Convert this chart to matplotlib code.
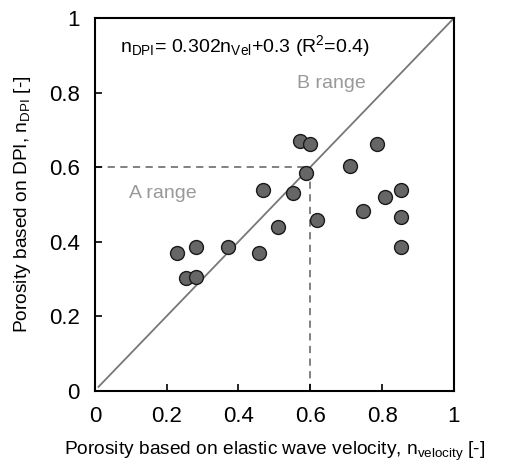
import matplotlib
matplotlib.use("Agg")
import matplotlib.pyplot as plt

plt.rcParams["font.family"] = ["Liberation Sans", "DejaVu Sans"]
plt.rcParams["mathtext.fontset"] = "custom"
plt.rcParams["mathtext.rm"] = "Liberation Sans"
plt.rcParams["mathtext.it"] = "Liberation Sans:italic"

# porosity
n_velocity = [0.228, 0.253, 0.281, 0.283, 0.372, 0.458, 0.469, 0.509, 0.552, 0.571,
              0.599, 0.587, 0.620, 0.711, 0.746, 0.787, 0.808, 0.854, 0.854, 0.854]
n_dpi = [0.369, 0.303, 0.304, 0.385, 0.385, 0.369, 0.538, 0.440, 0.530, 0.670,
         0.661, 0.584, 0.457, 0.602, 0.483, 0.661, 0.521, 0.539, 0.467, 0.385]

ticks = [0, 0.2, 0.4, 0.6, 0.8, 1]
tick_labels = ["0", "0.2", "0.4", "0.6", "0.8", "1"]
limit = 0.6

fig = plt.figure(figsize=(5.1, 4.65), dpi=100)
ax = fig.add_axes([0.186, 0.160, 0.704, 0.801])

# 1:1 line and range limits
ax.plot([0.01, 1], [0.01, 1], color="#777777", lw=1.3, zorder=1)
ax.plot([0, limit], [limit, limit], color="#777777", lw=1.3, ls=(0, (4, 3)), zorder=1)
ax.plot([limit, limit], [0, limit], color="#777777", lw=1.3, ls=(0, (4, 3)), zorder=1)

ax.scatter(n_velocity, n_dpi, s=100, facecolor="#666666", edgecolor="#1a1a1a",
           linewidth=1.0, zorder=3)

ax.text(0.07, 0.925, r"n$_{\mathrm{DPI}}$= 0.302n$_{\mathrm{Vel}}$+0.3 (R$^{2}$=0.4)",
        fontsize=14, va="center", ha="left")
ax.text(0.66, 0.825, "B range", fontsize=14, color="#999999", ha="center", va="center")
ax.text(0.19, 0.53, "A range", fontsize=14, color="#999999", ha="center", va="center")

ax.set_xlim(0, 1)
ax.set_ylim(0, 1)
ax.set_xticks(ticks)
ax.set_xticklabels(tick_labels)
ax.set_yticks(ticks)
ax.set_yticklabels(tick_labels)
ax.tick_params(direction="in", length=5, width=1.2, labelsize=16, pad=11)
for sp in ax.spines.values():
    sp.set_linewidth(1.5)

ax.set_xlabel(r"Porosity based on elastic wave velocity, n$_{\mathrm{velocity}}$ [-]",
              fontsize=13.8, labelpad=9)
ax.set_ylabel(r"Porosity based on DPI, n$_{\mathrm{DPI}}$ [-]", fontsize=13.8, labelpad=11)

fig.savefig("out.png", dpi=100)
